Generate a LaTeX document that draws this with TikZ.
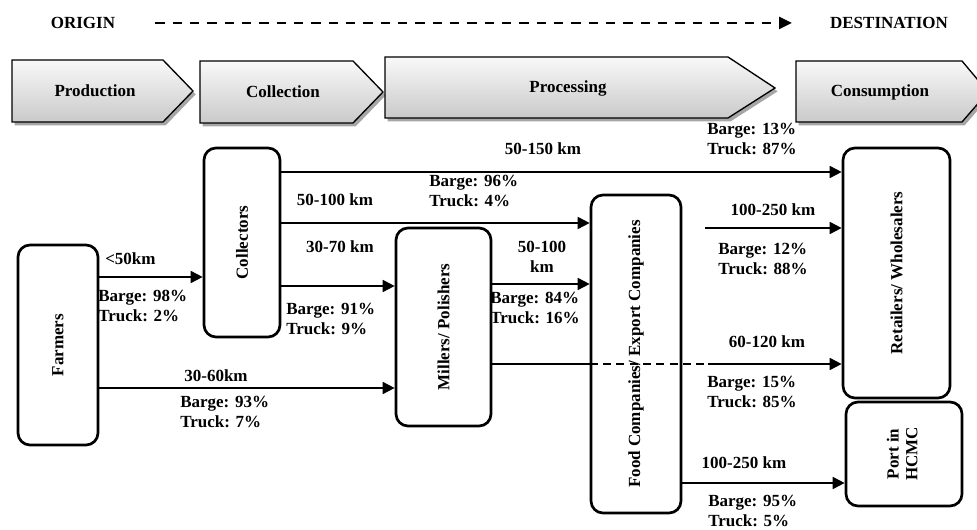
\documentclass[tikz,border=0pt]{standalone}
\usepackage{fontspec}
\setmainfont{Liberation Serif}
\usepackage{graphicx}
\usetikzlibrary{arrows.meta,shadows}
\begin{document}
\begin{tikzpicture}[x=0.75pt,y=-0.75pt,
  font=\fontsize{12.75}{15}\selectfont\bfseries,
  box/.style={draw, line width=2pt, rounded corners=9pt, inner sep=0pt},
  conn/.style={line width=1.3pt, -{Triangle[length=9pt,width=9pt]}},
  plain/.style={line width=1.3pt},
  lbl/.style={inner sep=0pt, align=left, anchor=west},
  km/.style={inner sep=0pt, align=center},
  chev/.style={draw, line width=1pt, top color=gray!5, bottom color=gray!42,
    drop shadow={shadow xshift=2pt, shadow yshift=-2.5pt, opacity=0.35, fill=black}}]
\useasboundingbox (0,0) rectangle (977,530);
\clip (0,0) rectangle (977,530);

% header
\node[inner sep=0pt] (origin) at (83,23) {ORIGIN};
\node[inner sep=0pt] (dest) at (889,23) {DESTINATION};
\draw[line width=1.5pt, dash pattern=on 7pt off 6pt, shorten <=30pt, shorten >=28.5pt,
  -{Triangle[length=9.5pt,width=9pt]}] (origin.east) -- (dest.west);

% stage chevrons
\path[chev] (12,60) -- (163,60) -- (193,91) -- (163,122) -- (12,122) -- cycle;
\path[chev] (200,61) -- (353,61) -- (383,92) -- (353,123) -- (200,123) -- cycle;
\path[chev] (385,57) -- (728,57) -- (775,88) -- (728,118) -- (385,118) -- cycle;
\path[chev] (796,61) -- (962,61) -- (988,92) -- (962,122) -- (796,122) -- cycle;
\node[inner sep=0pt] (sprod) at (95,91) {Production};
\node[inner sep=0pt] (scoll) at (283,92) {Collection};
\node[inner sep=0pt] (sproc) at (568,88) {Processing};
\node[inner sep=0pt] (scons) at (880,92) {Consumption};

% actors
\node[box, minimum width=60pt, minimum height=150pt] (farm) at (58,345) {\rotatebox{90}{Farmers}};
\node[box, minimum width=57pt, minimum height=141.75pt] (coll) at (242,242.5) {\rotatebox{90}{Collectors}};
\node[box, minimum width=71.25pt, minimum height=148.5pt] (mill) at (443.5,327) {\rotatebox{90}{Millers/ Polishers}};
\node[box, minimum width=67.5pt, minimum height=238.5pt] (food) at (636,354) {\rotatebox{90}{Food Companies/ Export Companies}};
\node[box, minimum width=80.25pt, minimum height=187.5pt] (ret) at (896.5,273) {\rotatebox{90}{Retailers/ Wholesalers}};
\node[box, minimum width=87pt, minimum height=78pt] (port) at (904,454) {\rotatebox{90}{\begin{tabular}{@{}c@{}}Port in\\[-1pt] HCMC\end{tabular}}};

% Farmers -> Collectors
\draw[conn] (farm.east |- 0,277) -- (coll.west |- 0,277);
\node[lbl] (l1a) at (105,259) {<50km};
\node[lbl] (l1b) at (98,305.5) {Barge: 98\%\\Truck: 2\%};

% Farmers -> Millers
\draw[conn] (farm.east |- 0,388) -- (mill.west |- 0,388);
\node[km] (l2a) at (216,376) {30-60km};
\node[lbl] (l2b) at (180,412) {Barge: 93\%\\Truck: 7\%};

% Collectors -> Retailers
\draw[conn] (coll.east |- 0,172) -- (ret.west |- 0,172);
\node[km] (l3a) at (543,149) {50-150 km};
\node[lbl] (l3b) at (707,139) {Barge: 13\%\\Truck: 87\%};

% Collectors -> Food companies
\draw[conn] (coll.east |- 0,223) -- (food.west |- 0,223);
\node[km] (l4a) at (335,200) {50-100 km};
\node[lbl] (l4b) at (429,191) {Barge: 96\%\\Truck: 4\%};

% Collectors -> Millers
\draw[conn] (coll.east |- 0,286) -- (mill.west |- 0,286);
\node[km] (l5a) at (340,247) {30-70 km};
\node[lbl] (l5b) at (286,319) {Barge: 91\%\\Truck: 9\%};

% Millers -> Food companies
\draw[conn] (mill.east |- 0,284) -- (food.west |- 0,284);
\node[km] (l6a) at (542,256.5) {50-100\\km};
\node[lbl] (l6b) at (490,308) {Barge: 84\%\\Truck: 16\%};

% Food companies -> Retailers
\coordinate (c7) at (705,228);
\draw[conn] (c7) -- (ret.west |- c7);
\node[km] (l7a) at (773,210) {100-250 km};
\node[lbl] (l7b) at (718,259) {Barge: 12\%\\Truck: 88\%};

% Millers -> Retailers (passing the food companies)
\coordinate (c8) at (708,364);
\draw[plain] (mill.east |- c8) -- (food.west |- c8);
\draw[plain, dash pattern=on 6pt off 4pt] (food.west |- c8) -- (c8);
\draw[conn] (c8) -- (ret.west |- c8);
\node[km] (l8a) at (767,342) {60-120 km};
\node[lbl] (l8b) at (707,392) {Barge: 15\%\\Truck: 85\%};

% Food companies -> Port
\draw[conn] (food.east |- 0,483) -- (port.west |- 0,483);
\node[km] (l9a) at (744,463) {100-250 km};
\node[lbl] (l9b) at (708,510.5) {Barge: 95\%\\Truck: 5\%};
\end{tikzpicture}
\end{document}
